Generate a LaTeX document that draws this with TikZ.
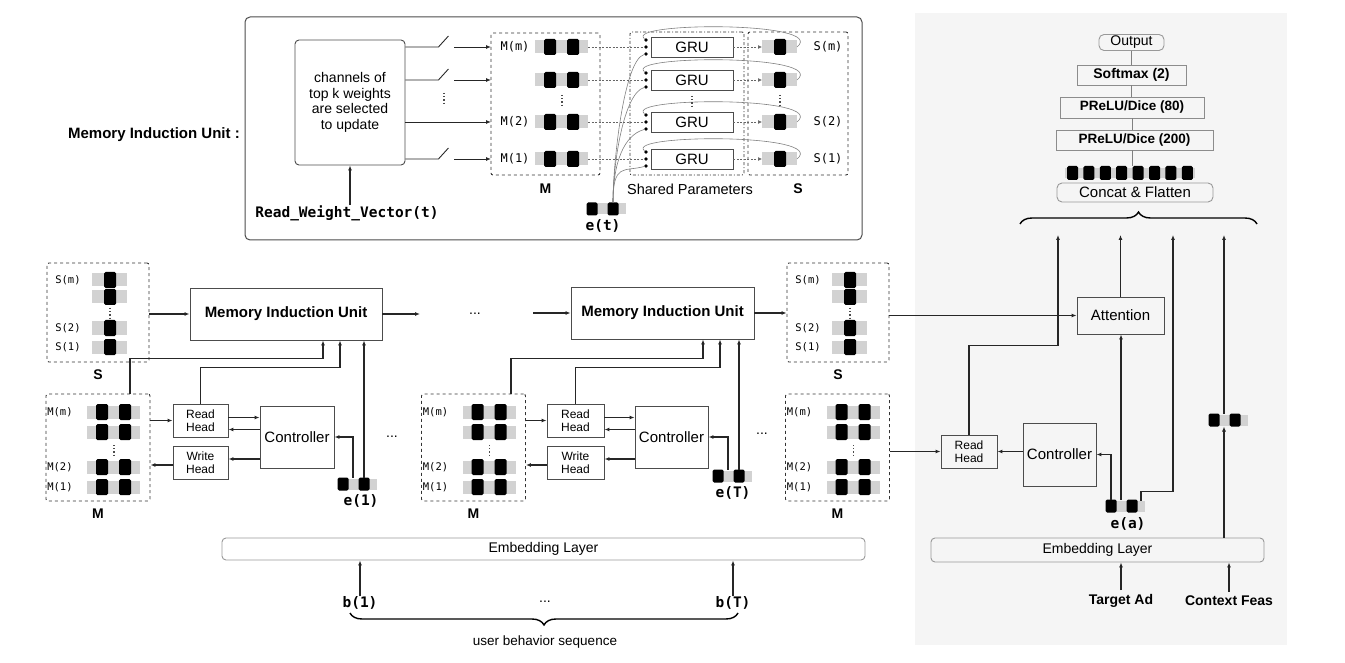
\documentclass[tikz,border=0pt]{standalone}
\usepackage{fontspec}
\setmainfont{Liberation Sans}
\setmonofont{DejaVu Sans Mono}
\usetikzlibrary{arrows.meta,decorations.pathreplacing,calc}
\tikzset{
  ln/.style={draw=black!85, line width=1.1pt},
  arr/.style={ln, -{Latex[length=5pt,width=4pt]}},
  fb/.style={draw=black!50, line width=0.6pt},
  dln/.style={draw=black!60, line width=0.7pt, dash pattern=on 2pt off 1.5pt},
  darr/.style={dln, -{Latex[length=4pt,width=4pt]}},
  box/.style={draw=black!70, line width=0.9pt, inner sep=1pt, align=center, font=\fontsize{14}{16}\selectfont},
  ebox/.style={draw=black!40, line width=0.9pt, rounded corners=4pt, inner sep=1pt, font=\fontsize{14}{16}\selectfont},
  dbox/.style={draw=black!80, line width=0.9pt, dash pattern=on 3pt off 3pt, rounded corners=2pt},
  bl/.style={font=\bfseries\fontsize{14}{16}\selectfont, inner sep=0pt},
  bold15/.style={font=\bfseries\fontsize{15}{17}\selectfont, inner sep=0pt},
  tx/.style={font=\fontsize{14}{16}\selectfont, inner sep=0pt},
  lblS/.style={font=\ttfamily\fontsize{10.5}{12}\selectfont, inner sep=0pt},
  lblT/.style={font=\ttfamily\fontsize{12}{13}\selectfont, inner sep=0pt},
  monob/.style={font=\ttfamily\bfseries\fontsize{14.5}{16}\selectfont, inner sep=0pt},
  port/.style={circle, fill=black, inner sep=0pt, minimum size=3.6pt},
  brace/.style={decorate, decoration={brace, amplitude=12pt}, draw=black, line width=1.4pt},
  mcell/.pic={
    \fill[gray!35] (-15,-6.5) rectangle (38,6.5);
    \fill[black, rounded corners=1.5pt] (-6,-8) rectangle (6,8);
    \fill[black, rounded corners=1.5pt] (17,-8) rectangle (29,8);
    \coordinate (-e) at (38,0);
  },
  scell/.pic={
    \fill[gray!35] (-18,-6.5) rectangle (17,6.5);
    \fill[black, rounded corners=1.5pt] (-6,-8) rectangle (6,8);
    \coordinate (-w) at (-18,0);
    \coordinate (-e) at (17,0);
  },
  ecell/.pic={
    \fill[gray!35] (-5,-5.5) rectangle (34,5.5);
    \fill[black, rounded corners=1.5pt] (-5.5,-6.5) rectangle (5.5,6.5);
    \fill[black, rounded corners=1.5pt] (15.5,-6.5) rectangle (26.5,6.5);
    \coordinate (-a) at (0,-6.5);
    \coordinate (-mt) at (10,-6.5);
    \coordinate (-mb) at (10,6.5);
    \coordinate (-b) at (21,-6.5);
    \coordinate (-c) at (30,-5.5);
  },
  vdt/.pic={\draw[dotted, line width=1.2pt, black!70] (0,-5) -- (0,5);}
}
\begin{document}
\begin{tikzpicture}[x=1pt,y=-1pt]
\useasboundingbox (0,0) rectangle (1345,663);
\fill[black!4] (915,13) rectangle (1287,645);

% ================= TOP: Memory Induction Unit detail =================
\node[draw=black!70, line width=1pt, rounded corners=5pt, minimum width=617pt, minimum height=223pt] (miuT) at (553.5,128.5) {};
\node[bold15, anchor=east] (miulabel) at (240,135) {Memory Induction Unit :};
\node[box, rounded corners=4pt, minimum width=110pt, minimum height=125pt, font=\fontsize{14}{15.6}\selectfont] (chan) at (350,102.5) {channels of\\top k weights\\are selected\\to update};
\node[monob] (rwv) at (347,213) {Read\_Weight\_Vector(t)};
\draw[arr] (rwv.north -| chan.south) -- (chan.south);

\node[dbox, minimum width=109pt, minimum height=142pt] (mT) at (545.5,104) {};
\node[bl] (mTl) at (545.5,189) {M};
\node[dbox, dash pattern=on 3pt off 2pt on 1pt off 2pt, minimum width=114pt, minimum height=143pt] (sp) at (687,103.5) {};
\node[tx, font=\fontsize{14.5}{16}\selectfont] (spl) at (690,189) {Shared Parameters};
\node[dbox, minimum width=100pt, minimum height=143pt] (sT) at (798,103.5) {};
\node[bl] (sTl) at (798,189) {S};

\pic (et) at (592,209) {ecell};
\node[monob] (etl) at (603,226) {e(t)};

\foreach \i/\r in {1/47,2/80,3/122,4/159} {
  \coordinate (mr\i) at (491,\r);
  \pic (mc\i) at (550,\r) {mcell};
  \node[box, font=\fontsize{15}{16}\selectfont, minimum width=82pt, minimum height=20pt] (g\i) at (692,\r) {GRU};
  \node[port] (gt\i) at (646,\r-7) {};
  \node[port] (gm\i) at (646,\r) {};
  \node[port] (gb\i) at (646,\r+7) {};
  \pic (sc\i) at (780,\r) {scell};
  \draw[dln] (mc\i-e) -- (gm\i);
  \draw[darr] (g\i.east) -- (sc\i-w);
  \draw[fb] (sc\i-e) .. controls +(32,-26) and +(-22,-18) .. (gt\i);
  \draw[fb] (et-b) .. controls +(0,-40) and +(-22,6) .. (gb\i);
}
\foreach \i in {1,2,4} {
  \draw[ln, line width=0.9pt] (chan.east |- mr\i) -- ++(33,0) -- ++(10,-11);
  \draw[arr, line width=0.9pt] ($(mr\i)+(-37,0)$) -- (mr\i);
}
\draw[arr, line width=0.9pt] (chan.east |- mr3) -- (mr3);
\node[lblT] (tm1) at (515,47) {M(m)};
\node[lblT] (tm2) at (515,122) {M(2)};
\node[lblT] (tm3) at (515,159) {M(1)};
\node[lblT] (ts1) at (828,47) {S(m)};
\node[lblT] (ts2) at (828,122) {S(2)};
\node[lblT] (ts3) at (828,159) {S(1)};
\pic at (444,98) {vdt};
\pic at (562,100) {vdt};
\pic at (692,101) {vdt};
\pic at (780,100) {vdt};

% ================= MAIN ROW =================
\foreach \k/\sx in {1/98, 3/838} {
  \node[dbox, minimum width=102pt, minimum height=99pt] (s\k) at (\sx,312.5) {};
  \node[bl] (s\k l) at (\sx,375) {S};
  \foreach \r/\t in {280/S(m),297/,328/S(2),347/S(1)} {
    \pic at (\sx+12,\r) {scell};
    \node[lblS] at (\sx-30,\r) {\t};
  }
  \pic at (\sx+12,313) {vdt};
}
\foreach \k/\mx in {1/98, 2/473.5, 3/837.5} {
  \node[dbox, minimum width=104pt, minimum height=107pt] (m\k) at (\mx,447.5) {};
  \node[bl] (m\k l) at (\mx,514) {M};
  \foreach \r/\t in {412/M(m),432/,467/M(2),487/M(1)} {
    \pic at (\mx+4,\r) {mcell};
    \node[lblS] at (\mx-38,\r) {\t};
  }
  \pic at (\mx+16,450) {vdt};
}

% group 1
\node[box, font=\bfseries\fontsize{15}{17}\selectfont, minimum width=192pt, minimum height=52pt] (miu1) at (286,314) {Memory Induction Unit};
\node[box, font=\fontsize{12}{13}\selectfont, minimum width=55pt, minimum height=33pt] (rh1) at (200.5,420.5) {Read\\Head};
\node[box, font=\fontsize{12}{13}\selectfont, minimum width=55pt, minimum height=33pt] (wh1) at (200.5,462.5) {Write\\Head};
\node[box, font=\fontsize{15}{17}\selectfont, minimum width=74pt, minimum height=62pt] (ctrl1) at (297,437) {Controller};
\pic (e1) at (343,484) {ecell};
\node[monob] (e1l) at (361,501) {e(1)};
\coordinate (mt1) at ($(m1.north)+(32,0)$);
\coordinate (miuA1) at ($(miu1.south)+(37,0)$);
\coordinate (miuB1) at ($(miu1.south)+(54,0)$);

% group 2
\node[box, font=\bfseries\fontsize{15}{17}\selectfont, minimum width=183pt, minimum height=52pt] (miu2) at (662.5,313) {Memory Induction Unit};
\node[box, font=\fontsize{12}{13}\selectfont, minimum width=57pt, minimum height=33pt] (rh2) at (575.5,420.5) {Read\\Head};
\node[box, font=\fontsize{12}{13}\selectfont, minimum width=57pt, minimum height=33pt] (wh2) at (575.5,462.5) {Write\\Head};
\node[box, font=\fontsize{15}{17}\selectfont, minimum width=73pt, minimum height=62pt] (ctrl2) at (671.5,437) {Controller};
\pic (e2) at (718,476) {ecell};
\node[monob] (e2l) at (733,493) {e(T)};
\coordinate (mt2) at ($(m2.north)+(37.5,0)$);
\coordinate (miuA2) at ($(miu2.south)+(40.5,0)$);
\coordinate (miuB2) at ($(miu2.south)+(57.5,0)$);

\foreach \k in {1,2} {
  \coordinate (ra\k) at ($(rh\k.east)+(0,-3)$);
  \coordinate (rb\k) at ($(rh\k.east)+(0,9)$);
  \coordinate (wa\k) at ($(wh\k.east)+(0,-3.5)$);
  \coordinate (wb\k) at ($(wh\k.west)+(0,2.5)$);
  \draw[arr] (m\k.east |- rh\k.west) -- (rh\k.west);
  \draw[arr] (ra\k) -- (ra\k -| ctrl\k.west);
  \draw[arr] (rb\k -| ctrl\k.west) -- (rb\k);
  \draw[arr] (wa\k -| ctrl\k.west) -- (wa\k);
  \draw[arr] (wb\k) -- (wb\k -| m\k.east);
  \draw[arr] (mt\k) -- ++(0,-35) -| (miuA\k);
  \draw[arr] (rh\k.north) -- ++(0,-36) -| (miuB\k);
  \draw[arr] (e\k-b) -- (e\k-b |- miu\k.south);
  \draw[arr] (e\k-mt) |- (ctrl\k.east);
}

% horizontal chain
\coordinate (d1) at (420,314);
\coordinate (d2) at (533,313);
\draw[arr] (s1.east |- miu1.west) -- (miu1.west);
\draw[arr] (miu1.east) -- (d1);
\node[tx] (dots1) at (475,314) {...};
\draw[arr] (d2) -- (miu2.west);
\draw[arr] (miu2.east) -- (miu2.east -| s3.west);
\node[tx] (dots2) at (392,437) {...};
\node[tx] (dots3) at (762,434) {...};

% bottom embedding
\node[ebox, minimum width=643pt, minimum height=22pt] (emb1) at (543.5,549) {Embedding Layer};
\node[monob] (b1) at (360,603) {b(1)};
\node[monob] (bT) at (733,603) {b(T)};
\node[tx] (dots4) at (545,602) {...};
\draw[arr] (b1.north) -- (b1.north |- emb1.south);
\draw[arr] (bT.north) -- (bT.north |- emb1.south);
\draw[brace, decoration={mirror}] (350,613) -- (738,613);
\node[tx, font=\fontsize{13.5}{15}\selectfont] (ubs) at (545,642) {user behavior sequence};

% ================= RIGHT: DNN part =================
\node[ebox, rounded corners=5pt, font=\fontsize{14}{16}\selectfont, minimum width=65pt, minimum height=16pt] (out) at (1131.5,42.5) {Output};
\node[box, draw=black!45, font=\bfseries\fontsize{14}{16}\selectfont, minimum width=109pt, minimum height=20pt] (soft) at (1131.5,75) {Softmax (2)};
\node[box, draw=black!45, font=\bfseries\fontsize{13.5}{16}\selectfont, minimum width=144pt, minimum height=21pt] (pr80) at (1132,107.5) {PReLU/Dice (80)};
\node[box, draw=black!45, font=\bfseries\fontsize{13.5}{16}\selectfont, minimum width=157pt, minimum height=20pt] (pr200) at (1134.5,140) {PReLU/Dice (200)};
\coordinate (sq) at (1132,173);
\fill[gray!35] (1065,168) rectangle (1195,178);
\foreach \j in {0,...,7} { \fill[black, rounded corners=1.5pt] (1067+16.4*\j,166) rectangle (1078+16.4*\j,180); }
\node[ebox, rounded corners=5pt, font=\fontsize{15}{17}\selectfont, minimum width=156pt, minimum height=19pt] (cf) at (1135,192.5) {Concat \& Flatten};
\draw[fb, line width=0.8pt] (out.south) -- (out.south |- soft.north);
\draw[fb, line width=0.8pt] (soft.south) -- (soft.south |- pr80.north);
\draw[fb, line width=0.8pt] (pr80.south) -- (pr80.south |- pr200.north);
\draw[fb, line width=0.8pt] (pr200.south -| sq) -- ($(sq)+(0,-7)$);
\draw[brace] (1020,224) -- (1257,224);

\coordinate (cin1) at (1058,235);
\coordinate (cin2) at (1120.5,235);
\coordinate (cin3) at (1173,235);
\coordinate (cin4) at (1224,235);

\node[box, font=\fontsize{15}{17}\selectfont, minimum width=87pt, minimum height=37pt] (att) at (1120.5,315.5) {Attention};
\node[box, font=\fontsize{15}{17}\selectfont, minimum width=73pt, minimum height=63pt] (ctrlR) at (1059.5,454.5) {Controller};
\node[box, font=\fontsize{12}{13}\selectfont, minimum width=56pt, minimum height=33pt] (rhR) at (969,451.5) {Read\\Head};
\pic (ea) at (1111,506) {ecell};
\node[monob] (eal) at (1128,524) {e(a)};
\pic (ctx) at (1214,420) {ecell};
\node[ebox, font=\fontsize{14}{16}\selectfont, minimum width=333pt, minimum height=24pt] (embR) at (1097.5,550) {Embedding Layer};
\node[bl] (tad) at (1121,601) {Target Ad};
\node[bl] (cfe) at (1229,601) {Context Feas};

\draw[arr] (s3.east |- att.west) -- (att.west);
\draw[arr] (rhR.north) -- ++(0,-89) -| (cin1);
\draw[arr] (att.north) -- (cin2);
\draw[arr] (ea-c) -- ++(0,-9) -| (cin3);
\draw[arr] (ea-mt) -- (ea-mt |- att.south);
\draw[arr] (ea-a) |- (ctrlR.east);
\draw[arr] (ctrlR.west |- rhR.east) -- (rhR.east);
\draw[arr] (m3.east |- rhR.west) -- (rhR.west);
\draw[arr] (embR.north -| ctx-mb) -- (ctx-mb);
\draw[arr] (ctx-mt) -- (cin4);
\draw[arr] ($(tad.north)+(0,-4)$) -- (tad.north |- embR.south);
\draw[arr] ($(cfe.north)+(0,-4)$) -- (cfe.north |- embR.south);
\end{tikzpicture}
\end{document}
